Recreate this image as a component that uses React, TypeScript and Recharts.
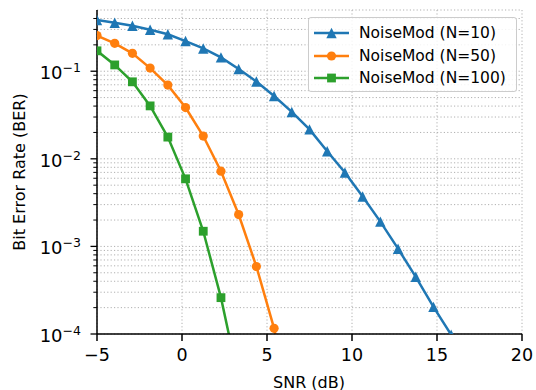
import React from 'react';
import { LineChart, Line, XAxis, YAxis, CartesianGrid, Label } from 'recharts';

// SNR sample points (dB)
const snr = [-5, -3.958, -2.917, -1.875, -0.833, 0.208, 1.25, 2.292, 3.333, 4.375, 5.417, 6.458, 7.5, 8.542, 9.583, 10.625, 11.667, 12.708, 13.75, 14.792, 15.833, 16.875];

// BER values per series (null = not plotted)
const berN10 = [0.385, 0.358, 0.331, 0.298, 0.264, 0.221, 0.182, 0.144, 0.106, 0.0764, 0.0522, 0.0343, 0.0217, 0.0122, 0.00698, 0.00371, 0.00192, 0.000942, 0.00045, 0.000204, 0.000098, 0.00004];
const berN50 = [0.255, 0.208, 0.16, 0.1086, 0.0694, 0.0385, 0.0182, 0.00723, 0.00231, 0.00059, 0.000116, 0.000015, null, null, null, null, null, null, null, null, null, null];
const berN100 = [0.171, 0.118, 0.0757, 0.0402, 0.0177, 0.00591, 0.00149, 0.00026, 0.00003, null, null, null, null, null, null, null, null, null, null, null, null, null];

const seriesNames = ['NoiseMod (N=10)', 'NoiseMod (N=50)', 'NoiseMod (N=100)'];
const seriesKeys = ['n10', 'n50', 'n100'];
const seriesColors = ['#1f77b4', '#ff7f0e', '#2ca02c'];
const seriesMarkers = ['triangle', 'circle', 'square'];

const xTicks = [-5, 0, 5, 10, 15, 20];
const yTicks = [
  0.0001, 0.0002, 0.0003, 0.0004, 0.0005, 0.0006, 0.0007, 0.0008, 0.0009,
  0.001, 0.002, 0.003, 0.004, 0.005, 0.006, 0.007, 0.008, 0.009,
  0.01, 0.02, 0.03, 0.04, 0.05, 0.06, 0.07, 0.08, 0.09,
  0.1, 0.2, 0.3, 0.4,
];

const data = snr.map((x, i) => ({ snr: x, n10: berN10[i], n50: berN50[i], n100: berN100[i] }));

const FONT = 'DejaVu Sans';

const Marker = ({ kind, cx, cy, color }: { kind: string; cx: number; cy: number; color: string }) => {
  if (kind === 'triangle') {
    const r = 5.2;
    return <polygon points={`${cx},${cy - r} ${cx - r},${cy + r} ${cx + r},${cy + r}`} fill={color} />;
  }
  if (kind === 'square') {
    const s = 4.4;
    return <rect x={cx - s} y={cy - s} width={s * 2} height={s * 2} fill={color} />;
  }
  return <circle cx={cx} cy={cy} r={4.6} fill={color} />;
};

const makeDot = (kind: string, color: string) => (props: any) => {
  const { cx, cy, index } = props;
  if (cx == null || cy == null || isNaN(cy)) return <g key={`d-${kind}-${index}`} />;
  return <Marker key={`d-${kind}-${index}`} kind={kind} cx={cx} cy={cy} color={color} />;
};

const isMajor = (v: number) => Math.abs(Math.log10(v) - Math.round(Math.log10(v))) < 1e-9;

const YTick = (props: any) => {
  const { x, y, payload } = props;
  const v = payload.value;
  if (isMajor(v)) {
    const exp = Math.round(Math.log10(v));
    return (
      <g>
        <line x1={x - 6.5} x2={x} y1={y} y2={y} stroke="#000" strokeWidth={1.3} />
        <text x={x - 16} y={y + 7.7} textAnchor="end" fontFamily={FONT} fontSize={18} fill="#000">
          <tspan>10</tspan>
          <tspan dy={-7} fontSize={12.5}>{'\u2212' + Math.abs(exp)}</tspan>
        </text>
      </g>
    );
  }
  return <line x1={x - 3.7} x2={x} y1={y} y2={y} stroke="#000" strokeWidth={1} />;
};

const LegendBox = () => (
  <div
    style={{
      position: 'absolute',
      left: 308,
      top: 17,
      background: 'rgba(255,255,255,0.85)',
      border: '1px solid #cccccc',
      borderRadius: 3,
      width: 209,
      height: 75,
      boxSizing: 'border-box',
      padding: '4px 0 0 4px',
      fontFamily: FONT,
      fontSize: 15.5,
      color: '#000',
    }}
  >
    {seriesNames.map((name, i) => (
      <div key={name} style={{ display: 'flex', alignItems: 'center', height: 22.5 }}>
        <svg width={40} height={14} style={{ marginRight: 6 }}>
          <line x1={1} x2={36} y1={7} y2={7} stroke={seriesColors[i]} strokeWidth={2.5} />
          <Marker kind={seriesMarkers[i]} cx={18.5} cy={7} color={seriesColors[i]} />
        </svg>
        <span>{name}</span>
      </div>
    ))}
  </div>
);

const App: React.FC = () => {
  return (
    <div style={{ position: 'absolute', left: 0, top: 0, width: 536, height: 390, background: '#fff' }}>
      <LineChart width={536} height={390} data={data} margin={{ top: 10, right: 14, bottom: 0, left: 0 }}>
        <CartesianGrid stroke="#b0b0b0" strokeDasharray="1.2 2.2" strokeWidth={1} />
        <XAxis
          dataKey="snr"
          type="number"
          domain={[-5, 20]}
          ticks={xTicks}
          allowDataOverflow
          height={56}
          stroke="#000"
          strokeWidth={1.5}
          tickSize={7}
          tickMargin={8}
          tick={{ fill: '#000', fontSize: 17.5, fontFamily: FONT }}
          tickFormatter={(v: number) => String(v).replace('-', '\u2212')}
        >
          <Label
            content={() => (
              <text x={309} y={387.5} textAnchor="middle" fontFamily={FONT} fontSize={16} fill="#000">
                SNR (dB)
              </text>
            )}
          />
        </XAxis>
        <XAxis xAxisId="top" orientation="top" type="number" domain={[-5, 20]} height={0} tick={false} tickLine={false} stroke="#000" strokeWidth={1.5} />
        <YAxis
          type="number"
          scale="log"
          domain={[0.0001, 0.5]}
          ticks={yTicks}
          allowDataOverflow
          width={97}
          stroke="#000"
          strokeWidth={1.5}
          tickLine={false}
          tickSize={0}
          tickMargin={0}
          tick={<YTick />}
          interval={0}
        >
          <Label
            content={() => (
              <text x={25} y={172} transform="rotate(-90 25 172)" textAnchor="middle" fontFamily={FONT} fontSize={16} fill="#000">
                Bit Error Rate (BER)
              </text>
            )}
          />
        </YAxis>
        <YAxis yAxisId="right" orientation="right" width={0} tick={false} tickLine={false} stroke="#000" strokeWidth={1.5} />
        {seriesKeys.map((key, i) => (
          <Line
            key={key}
            dataKey={key}
            name={seriesNames[i]}
            type="linear"
            stroke={seriesColors[i]}
            strokeWidth={2.5}
            dot={makeDot(seriesMarkers[i], seriesColors[i])}
            activeDot={false}
            isAnimationActive={false}
          />
        ))}
      </LineChart>
      <LegendBox />
    </div>
  );
};

export default App;
